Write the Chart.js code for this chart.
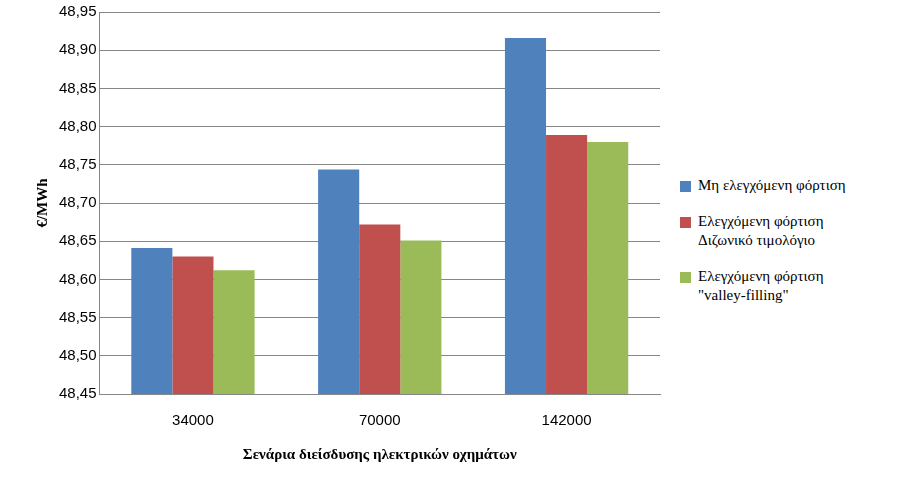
<!DOCTYPE html>
<html>
<head>
<meta charset="utf-8">
<script src="https://cdn.jsdelivr.net/npm/chart.js@4"></script>
<style>
body { margin: 0; background: #fff; }
#wrap { position: relative; width: 910px; height: 480px; }
#c { position: absolute; left: 0; top: 0; }
#legend { position: absolute; left: 680px; top: 176px; font-family: "Times New Roman", "Liberation Serif", serif; font-size: 15px; color: #000; }
.item { position: relative; padding-left: 18px; margin-bottom: 17px; line-height: 19px; }
.sw { position: absolute; left: 0; top: 5px; width: 11px; height: 11px; }
</style>
</head>
<body>
<div id="wrap">
<canvas id="c" width="670" height="480"></canvas>
<div id="legend"></div>
</div>
<script>
const categories = ['34000', '70000', '142000'];
const uncontrolled = [48.641, 48.744, 48.916];
const dualTariff = [48.630, 48.672, 48.789];
const valleyFilling = [48.612, 48.651, 48.780];
const seriesNames = [['Μη ελεγχόμενη φόρτιση'], ['Ελεγχόμενη φόρτιση', 'Διζωνικό τιμολόγιο'], ['Ελεγχόμενη φόρτιση', '"valley-filling"']];
const colors = ['#4f81bd', '#c0504d', '#9bbb59'];

const ctx = document.getElementById('c').getContext('2d');
new Chart(ctx, {
    type: 'bar',
    data: {
        labels: categories,
        datasets: [uncontrolled, dualTariff, valleyFilling].map((d, i) => ({
            label: seriesNames[i].join(' '),
            data: d,
            backgroundColor: colors[i],
            categoryPercentage: 0.66,
            barPercentage: 1
        }))
    },
    options: {
        responsive: false,
        animation: false,
        layout: { padding: { top: 6, right: 10, left: 30, bottom: 12 } },
        plugins: { legend: { display: false }, tooltip: { enabled: false } },
        scales: {
            y: {
                min: 48.45, max: 48.95,
                ticks: { stepSize: 0.05, color: '#000', font: { family: 'Liberation Sans', size: 15 },
                    callback: v => v.toFixed(2).replace('.', ',') },
                grid: { color: '#868686', drawTicks: false },
                border: { color: '#868686' },
                title: { display: true, text: '€/MWh', color: '#000', font: { family: 'Liberation Serif', size: 15, weight: 'bold' } }
            },
            x: {
                ticks: { color: '#000', font: { family: 'Liberation Sans', size: 15 }, padding: 10 },
                grid: { display: false },
                border: { color: '#868686' },
                title: { display: true, text: 'Σενάρια διείσδυσης ηλεκτρικών οχημάτων', color: '#000', padding: { top: 6 }, font: { family: 'Liberation Serif', size: 15, weight: 'bold' } }
            }
        }
    }
});

const legend = document.getElementById('legend');
seriesNames.forEach((lines, i) => {
    const div = document.createElement('div');
    div.className = 'item';
    div.innerHTML = '<span class="sw" style="background:' + colors[i] + '"></span>' + lines.join('<br>');
    legend.appendChild(div);
});
</script>
</body>
</html>
